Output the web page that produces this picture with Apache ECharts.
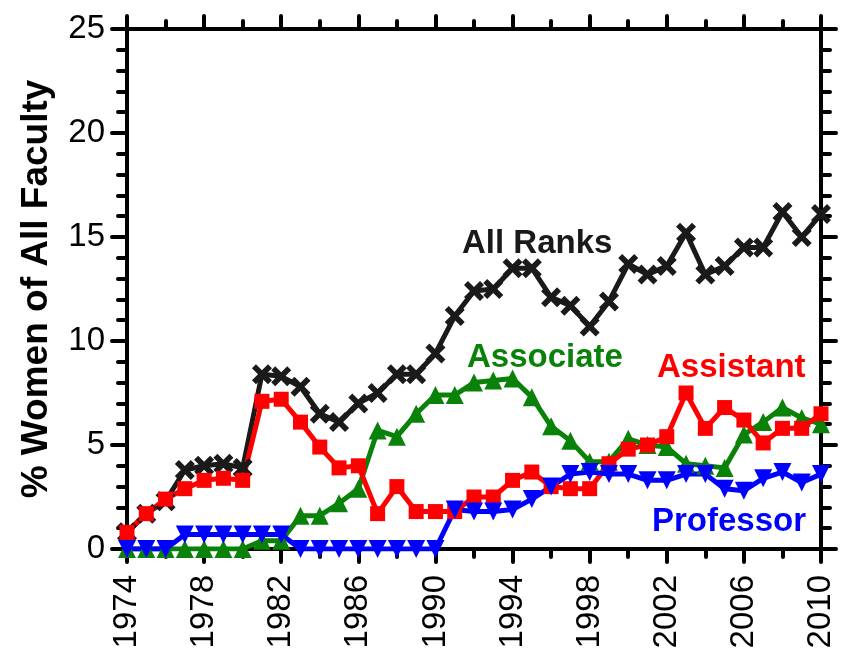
<!DOCTYPE html>
<html>
<head>
<meta charset="utf-8">
<script src="https://cdn.jsdelivr.net/npm/echarts@6/dist/echarts.min.js"></script>
<style>
  html, body { margin: 0; padding: 0; background: #fff; }
  #chart { width: 843px; height: 657px; }
</style>
</head>
<body>
<div id="chart"></div>
<script>
// years 1974..2010
var years = [1974, 1975, 1976, 1977, 1978, 1979, 1980, 1981, 1982, 1983, 1984, 1985,
             1986, 1987, 1988, 1989, 1990, 1991, 1992, 1993, 1994, 1995, 1996, 1997,
             1998, 1999, 2000, 2001, 2002, 2003, 2004, 2005, 2006, 2007, 2008, 2009, 2010];

var allRanks  = [0.8, 1.7, 2.3, 3.8, 4.0, 4.1, 3.9, 8.4, 8.3, 7.8, 6.5, 6.1,
                 7.0, 7.5, 8.4, 8.4, 9.4, 11.2, 12.4, 12.5, 13.5, 13.5, 12.1, 11.7,
                 10.7, 11.9, 13.7, 13.2, 13.6, 15.2, 13.2, 13.6, 14.5, 14.5, 16.2, 15.0, 16.1];

var associate = [0, 0, 0, 0, 0, 0, 0, 0.4, 0.4, 1.6, 1.6, 2.2,
                 2.9, 5.7, 5.4, 6.5, 7.4, 7.4, 8.0, 8.1, 8.2, 7.3, 5.9, 5.2,
                 4.2, 4.2, 5.3, 5.0, 4.9, 4.1, 4.0, 3.9, 5.5, 6.1, 6.8, 6.3, 6.0];

var assistant = [0.8, 1.7, 2.4, 2.9, 3.3, 3.4, 3.3, 7.1, 7.2, 6.1, 4.9, 3.9,
                 4.0, 1.7, 3.0, 1.8, 1.8, 1.8, 2.5, 2.5, 3.3, 3.7, 3.0, 2.9,
                 2.9, 4.1, 4.8, 5.0, 5.4, 7.5, 5.8, 6.8, 6.2, 5.1, 5.8, 5.8, 6.5];

var professor = [0, 0, 0, 0.7, 0.7, 0.7, 0.7, 0.7, 0.7, 0, 0, 0,
                 0, 0, 0, 0, 0, 1.9, 1.8, 1.8, 1.9, 2.4, 3.0, 3.6,
                 3.7, 3.6, 3.6, 3.3, 3.3, 3.6, 3.6, 2.9, 2.8, 3.4, 3.7, 3.2, 3.6];

var yearTicks = [1974, 1978, 1982, 1986, 1990, 1994, 1998, 2002, 2006, 2010];

function pairs(vals) {
    return years.map(function (y, i) { return [y, vals[i]]; });
}

// thick "x" marker
var crossPath = 'path://M0,4L4,0L10,6L16,0L20,4L14,10L20,16L16,20L10,14L4,20L0,16L6,10Z';

var myChart = echarts.init(document.getElementById('chart'));

var tickStyle = { color: '#000', width: 4, cap: 'round' };
var lblFont = { fontFamily: '"Liberation Sans", Arial, sans-serif', fontSize: 33, color: '#000' };
var bold = '"Liberation Sans", Arial, sans-serif';

function xAx(pos, showLabel) {
    return {
        type: 'value', position: pos, min: 1974, max: 2010, interval: 4,
        axisLine: { show: true, onZero: false, lineStyle: { color: '#000', width: 4 } },
        axisTick: { show: true, length: 13, lineStyle: tickStyle },
        minorTick: { show: true, splitNumber: 2, length: 8, lineStyle: tickStyle },
        splitLine: { show: false },
        axisLabel: showLabel ? Object.assign({
            show: true, rotate: 90, margin: 26,
            formatter: function (v) { return yearTicks.indexOf(v) >= 0 ? String(v) : ''; }
        }, lblFont) : { show: false }
    };
}

function yAx(pos, showLabel) {
    var ax = {
        type: 'value', position: pos, min: 0, max: 25, interval: 5,
        axisLine: { show: true, onZero: false, lineStyle: { color: '#000', width: 4 } },
        axisTick: { show: true, length: 15, lineStyle: tickStyle },
        minorTick: { show: true, splitNumber: 5, length: 9, lineStyle: tickStyle },
        splitLine: { show: false },
        axisLabel: showLabel ? Object.assign({ show: true, margin: 22 }, lblFont) : { show: false }
    };
    if (showLabel) {
        ax.name = '% Women of All Faculty';
        ax.nameLocation = 'middle';
        ax.nameGap = 72;
        ax.nameRotate = 90;
        ax.nameTextStyle = { fontFamily: bold, fontWeight: 'bold', fontSize: 37, color: '#000' };
    }
    return ax;
}

function series(name, vals, color, symbol, size, rotate) {
    return {
        name: name, type: 'line', xAxisIndex: 0, yAxisIndex: 0,
        data: pairs(vals),
        symbol: symbol, symbolSize: size, symbolRotate: rotate || 0,
        showAllSymbol: true,
        lineStyle: { color: color, width: 5 },
        itemStyle: { color: color },
        animation: false
    };
}

var option = {
    animation: false,
    grid: { left: 127, right: 22, top: 29, bottom: 108 },
    xAxis: [xAx('bottom', true), xAx('top', false)],
    yAxis: [yAx('left', true), yAx('right', false)],
    series: [
        series('All Ranks', allRanks, '#1a1a1a', crossPath, 20),
        series('Associate', associate, '#0a820a', 'triangle', 18),
        series('Assistant', assistant, '#ff0000', 'rect', 15),
        series('Professor', professor, '#0000ff', 'triangle', 18, 180)
    ],
    graphic: [
        { type: 'text', left: 462, top: 227, style: { text: 'All Ranks', font: 'bold 33px ' + bold, fill: '#1a1a1a' } },
        { type: 'text', left: 467, top: 341, style: { text: 'Associate', font: 'bold 33px ' + bold, fill: '#0a820a' } },
        { type: 'text', left: 657, top: 351, style: { text: 'Assistant', font: 'bold 33px ' + bold, fill: '#ff0000' } },
        { type: 'text', left: 652, top: 505, style: { text: 'Professor', font: 'bold 33px ' + bold, fill: '#0000ff' } }
    ]
};
myChart.setOption(option);
</script>
</body>
</html>
